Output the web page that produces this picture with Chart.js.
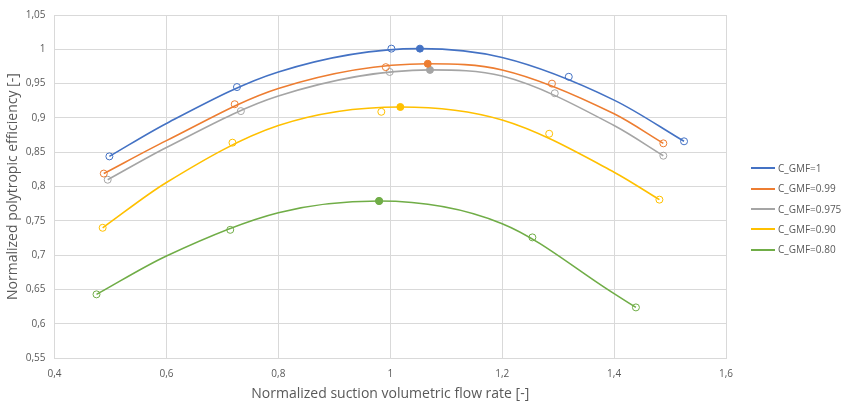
<!DOCTYPE html>
<html>
<head>
<meta charset="utf-8">
<script src="https://cdn.jsdelivr.net/npm/chart.js@4.4.1/dist/chart.umd.min.js"></script>
<style>
  body { margin: 0; background: #fff; }
  #wrap { position: relative; width: 842px; height: 402px; }
  #legend { position: absolute; left: 751px; top: 161px; font: 10px 'Open Sans', sans-serif; color: #595959; }
  #legend div { height: 20.3px; line-height: 14px; white-space: nowrap; }
  #legend span { display: inline-block; width: 24px; height: 2px; vertical-align: middle; margin-right: 3px; position: relative; top: -1px; }
</style>
</head>
<body>
<div id="wrap"><canvas id="chart" width="842" height="402"></canvas><div id="legend"></div></div>
<script>
const labels = ['C_GMF=1', 'C_GMF=0.99', 'C_GMF=0.975', 'C_GMF=0.90', 'C_GMF=0.80']
const colors = ['#4472C4', '#ED7D31', '#A5A5A5', '#FFC000', '#70AD47']

const flowX = [
  [0.498, 0.726, 1.002, 1.319, 1.525],
  [0.488, 0.722, 0.992, 1.289, 1.488],
  [0.495, 0.733, 0.999, 1.294, 1.488],
  [0.486, 0.718, 0.984, 1.284, 1.481],
  [0.475, 0.714, 0.980, 1.254, 1.439]
]
const effY = [
  [0.844, 0.945, 1.001, 0.960, 0.866],
  [0.819, 0.920, 0.974, 0.950, 0.863],
  [0.810, 0.910, 0.967, 0.936, 0.845],
  [0.740, 0.864, 0.909, 0.877, 0.781],
  [0.643, 0.737, 0.779, 0.726, 0.624]
]
// maximum of each trend curve (filled markers)
const peakX = [1.053, 1.067, 1.071, 1.018, 0.980]
const peakY = [1.001, 0.979, 0.970, 0.916, 0.779]

// trend curve height where it crosses the vertical gridlines
const trendX = [0.6, 0.8, 1.2, 1.4]
const trendY = [
  [0.892, 0.967, 0.988, 0.926],
  [0.867, 0.943, 0.970, 0.906],
  [0.857, 0.932, 0.961, 0.889],
  [0.806, 0.889, 0.897, 0.821],
  [0.699, 0.762, 0.746, 0.644]
]

const xTicks = [0.4, 0.6, 0.8, 1, 1.2, 1.4, 1.6]
const yMin = 0.55, yMax = 1.05, yStep = 0.05

const comma = v => String(Number(v.toFixed(2))).replace('.', ',')

let datasets = []
labels.forEach((lab, i) => {
  // trend curve from first to last measured point, through the maximum
  let curve = [{x: flowX[i][0], y: effY[i][0]}]
  trendX.forEach((x, j) => curve.push({x: x, y: trendY[i][j]}))
  curve.push({x: peakX[i], y: peakY[i]})
  curve.push({x: flowX[i][4], y: effY[i][4]})
  curve.sort((a, b) => a.x - b.x)
  datasets.push({
    label: lab,
    data: curve,
    showLine: true,
    borderColor: colors[i],
    backgroundColor: colors[i],
    borderWidth: 1.6,
    pointRadius: 0,
    pointHoverRadius: 0,
    cubicInterpolationMode: 'monotone',
    order: 3
  })
})
labels.forEach((lab, i) => {
  datasets.push({
    data: flowX[i].map((x, j) => ({x: x, y: effY[i][j]})),
    showLine: false,
    borderColor: colors[i],
    backgroundColor: 'rgba(255,255,255,0)',
    borderWidth: 1,
    pointRadius: 3.5,
    order: 2
  })
  datasets.push({
    data: [{x: peakX[i], y: peakY[i]}],
    showLine: false,
    borderColor: colors[i],
    backgroundColor: colors[i],
    borderWidth: 1,
    pointRadius: 3.5,
    order: 1
  })
})

// legend as html, next to the plot
document.getElementById('legend').innerHTML = labels.map((lab, i) =>
  '<div><span style="background:' + colors[i] + '"></span>' + lab + '</div>').join('')

const grid = '#d9d9d9'
const tickFont = {family: 'Open Sans', size: 10}
const titleFont = {family: 'Open Sans', size: 14}

new Chart(document.getElementById('chart'), {
  type: 'scatter',
  data: {datasets: datasets},
  options: {
    responsive: false,
    animation: false,
    layout: {padding: {top: 11, right: 116, bottom: 0, left: 5}},
    plugins: {
      tooltip: {enabled: false},
      legend: {display: false}
    },
    scales: {
      x: {
        type: 'linear',
        min: 0.4,
        max: 1.6,
        afterBuildTicks: axis => { axis.ticks = xTicks.map(v => ({value: v})) },
        ticks: {callback: v => comma(v), color: '#595959', font: tickFont, maxRotation: 0, padding: 10},
        grid: {color: grid, lineWidth: 1, drawTicks: false},
        border: {color: grid},
        title: {display: true, text: 'Normalized suction volumetric flow rate [-]', color: '#595959', font: titleFont, padding: {top: -5, bottom: 0}}
      },
      y: {
        min: yMin,
        max: yMax,
        ticks: {stepSize: yStep, callback: v => comma(v), color: '#595959', font: tickFont, padding: 9},
        grid: {color: grid, lineWidth: 1, drawTicks: false},
        border: {color: grid},
        title: {display: true, text: 'Normalized polytropic efficiency [-]', color: '#595959', font: titleFont, padding: {top: 0, bottom: -5}}
      }
    }
  }
})
</script>
</body>
</html>
